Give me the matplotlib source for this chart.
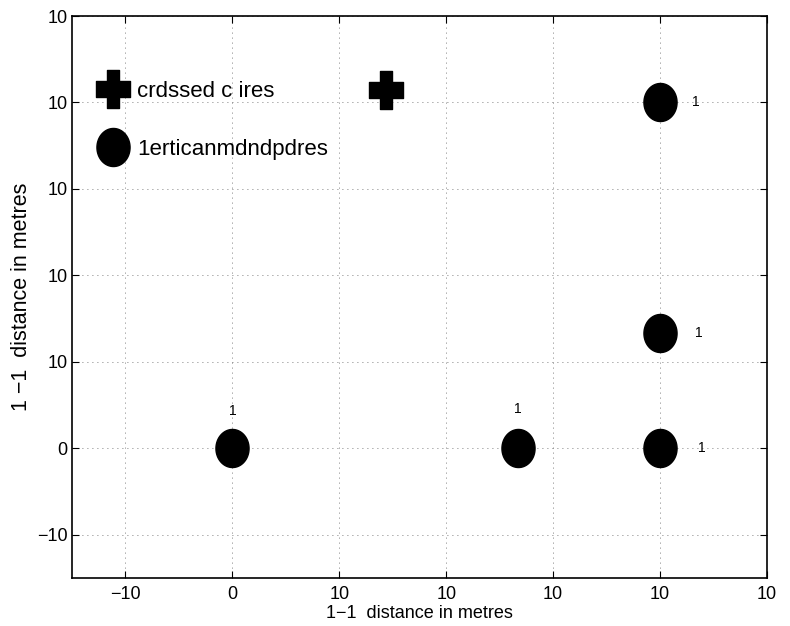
import numpy as np
import matplotlib
matplotlib.use("Agg")
import matplotlib.pyplot as plt
from matplotlib.path import Path

plt.rcParams['font.family'] = ['Liberation Sans', 'DejaVu Sans']

# data
cross_x = [14.4]
cross_y = [41.4]
circ_x = [0, 26.7, 40, 40, 40]
circ_y = [0, 0, 0, 13.3, 40]
ann_text = ["1", "1", "1", "1", "1"]
ann_x = [0, 26.7, 43.9, 43.6, 43.3]
ann_y = [4.3, 4.5, 0, 13.3, 40]
tick_vals = [-10, 0, 10, 20, 30, 40, 50]
xtick_labels = ["\u221210", "0", "10", "10", "10", "10", "10"]
ytick_labels = ["\u221210", "0", "10", "10", "10", "10", "10"]
legend_labels = ["crdssed c ires", "1erticanmdndpdres"]
xlabel = "1\u22121  distance in metres"
ylabel = "1 \u22121  distance in metres"

# elliptical marker (taller than wide)
t = np.linspace(0, 2*np.pi, 100)
ell = Path(np.column_stack([0.435*np.cos(t), 0.5*np.sin(t)]), closed=True)
# thick plus marker
av, ah, aw, b = 0.162, 0.216, 0.446, 0.5
plus_verts = [(-av, b), (av, b), (av, ah), (aw, ah), (aw, -ah), (av, -ah),
              (av, -b), (-av, -b), (-av, -ah), (-aw, -ah), (-aw, ah),
              (-av, ah), (-av, b)]
plus = Path(plus_verts, closed=True)

fig = plt.figure(figsize=(7.9, 6.26), dpi=100)
ax = fig.add_axes([0.0911, 0.0767, 0.8798, 0.8977])

ms = 27.4
ax.plot(cross_x, cross_y, linestyle='none', marker=plus, markersize=ms,
        color='black', label=legend_labels[0])
ax.plot(circ_x, circ_y, linestyle='none', marker=ell, markersize=ms,
        color='black', label=legend_labels[1])
for s, x, y in zip(ann_text, ann_x, ann_y):
    ax.text(x, y, s, fontsize=10, ha='center', va='center')

ax.set_xlim(-15, 50)
ax.set_ylim(-15, 50)
ax.set_xticks(tick_vals)
ax.set_xticklabels(xtick_labels)
ax.set_yticks(tick_vals)
ax.set_yticklabels(ytick_labels)
ax.tick_params(direction='in', length=5, width=0.8, top=True, right=True,
               labelsize=13)
ax.tick_params(axis='x', pad=6)
ax.tick_params(axis='y', pad=3)
ax.grid(True, linestyle=(0, (1, 5)), color='#555555', linewidth=0.6)
for sp in ax.spines.values():
    sp.set_linewidth(1.2)

ax.set_xlabel(xlabel, fontsize=13, labelpad=1.5)
ax.set_ylabel(ylabel, fontsize=15.5, labelpad=4)

leg = ax.legend(loc='upper left', frameon=False, fontsize=16,
                bbox_to_anchor=(0.0352, 0.885), handlelength=1.5,
                handletextpad=0.34, labelspacing=1.66, markerscale=1.0,
                borderaxespad=0.0, borderpad=0.0)

fig.savefig("out.png", dpi=100)
